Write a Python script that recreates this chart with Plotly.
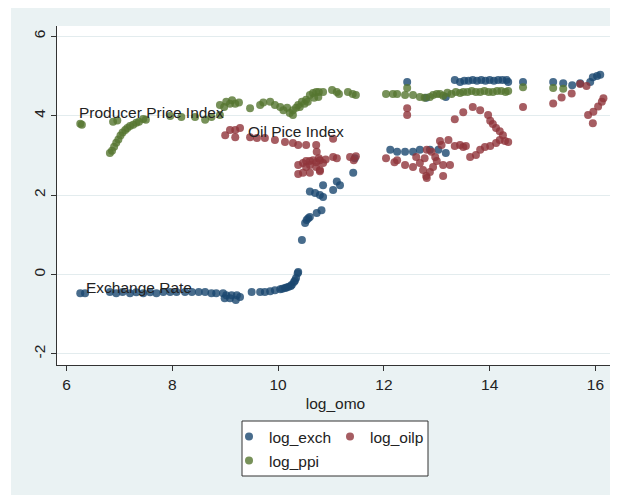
import plotly.graph_objects as go

# ---------------- data ----------------
omo_exch = [6.26, 6.35, 6.82, 6.94, 7.06, 7.20, 7.32, 7.45, 7.58, 7.70,
            7.83, 7.96, 8.08, 8.24, 8.37, 8.50, 8.62, 8.74, 8.83, 8.96,
            9.02, 9.12, 9.22, 9.28, 8.99, 9.09, 9.20, 9.50, 9.66, 9.75,
            9.85, 9.94, 10.04, 10.08, 10.13, 10.16, 10.20, 10.24, 10.26, 10.30,
            10.32, 10.34, 10.37, 10.38,
            10.45, 10.51, 10.54, 10.57, 10.60, 10.73, 10.82, 10.60, 10.70, 10.79,
            10.85, 10.85, 11.04, 11.11, 11.17, 11.42, 11.45,
            12.12, 12.25, 12.40, 12.55, 12.68, 12.87, 13.03, 13.17,
            12.44, 12.80, 13.17, 13.34, 13.44, 13.52, 13.60, 13.68, 13.76, 13.84,
            13.92, 14.00, 14.08, 14.16, 14.24, 14.32, 14.35, 14.63, 15.20, 15.39,
            15.56, 15.71, 15.90, 15.95, 16.03, 16.09]
log_exch = [-0.47, -0.47, -0.44, -0.47, -0.44, -0.47, -0.45, -0.47, -0.45, -0.47,
            -0.44, -0.44, -0.44, -0.44, -0.44, -0.44, -0.44, -0.47, -0.47, -0.47,
            -0.52, -0.52, -0.52, -0.57, -0.60, -0.60, -0.64, -0.44, -0.44, -0.44,
            -0.42, -0.40, -0.37, -0.36, -0.34, -0.33, -0.31, -0.29, -0.26, -0.19,
            -0.15, -0.09, 0.03, 0.06,
            0.87, 1.30, 1.37, 1.42, 1.45, 1.55, 1.62, 2.09, 2.05, 2.00,
            1.95, 2.25, 2.13, 2.34, 2.25, 2.56, 2.93,
            3.14, 3.09, 3.09, 3.09, 3.14, 3.14, 3.14, 3.06,
            4.85, 4.45, 4.47, 4.90, 4.85, 4.88, 4.88, 4.90, 4.88, 4.90,
            4.88, 4.90, 4.88, 4.90, 4.90, 4.90, 4.85, 4.85, 4.85, 4.82,
            4.77, 4.82, 4.85, 4.97, 5.00, 5.03]

omo_oilp = [9.00, 9.09, 9.19, 9.28, 9.19, 9.47, 9.60, 9.75, 9.94, 10.13,
            10.28, 10.38, 10.53, 10.72, 10.73, 11.04,
            10.38, 10.38, 10.47, 10.53, 10.60, 10.66, 10.72, 10.79, 10.85, 10.79,
            10.72, 10.60, 10.53, 10.47, 10.60, 10.79, 10.77, 10.90, 11.04, 11.11,
            11.36, 11.43, 11.47,
            12.04, 12.20, 12.25, 12.40, 12.55, 12.68, 12.74, 12.80, 12.87, 12.93,
            12.77, 12.61, 12.90, 12.97, 13.00, 13.12, 13.12, 13.25, 12.81, 12.81,
            13.06, 13.09, 13.22, 13.34, 13.44, 13.50, 13.55, 13.63, 13.74, 13.82,
            13.91, 14.01, 14.12, 14.19, 14.29, 14.35, 14.25, 14.19, 14.12, 14.06,
            14.01, 13.97, 13.82, 13.68, 13.50, 13.34,
            12.44, 12.44, 14.63, 15.20, 15.36, 15.55, 15.71, 15.83, 15.86, 15.96,
            15.95, 16.05, 16.12, 16.15]
log_oilp = [3.51, 3.64, 3.64, 3.69, 3.46, 3.46, 3.44, 3.44, 3.39, 3.34,
            3.31, 3.26, 3.26, 3.26, 3.09, 3.42,
            2.76, 2.53, 2.81, 2.86, 2.86, 2.88, 2.83, 2.88, 2.81, 2.63,
            2.71, 2.76, 2.71, 2.56, 2.56, 2.60, 2.93, 2.90, 2.96, 2.93,
            2.96, 2.88, 2.98,
            2.93, 2.83, 2.88, 2.76, 2.71, 2.81, 2.63, 2.48, 2.58, 2.71,
            2.93, 2.96, 3.09, 2.96, 2.86, 2.76, 2.48, 2.76, 3.14, 2.43,
            3.36, 3.26, 3.39, 3.24, 3.26, 3.21, 3.24, 2.96, 3.01, 3.14,
            3.21, 3.24, 3.31, 3.39, 3.36, 3.34, 3.51, 3.61, 3.69, 3.79,
            3.87, 4.02, 4.14, 4.22, 4.09, 3.91,
            4.19, 4.02, 4.22, 4.31, 4.46, 4.56, 4.80, 4.75, 4.02, 4.10,
            3.81, 4.23, 4.35, 4.44]

omo_ppi = [6.26, 6.29, 6.82, 6.86, 6.90, 6.94, 6.98, 7.02, 7.06, 7.11,
           7.15, 7.20, 7.26, 7.32, 7.37, 6.88, 6.96, 7.45, 7.50, 7.96,
           8.17, 8.43, 8.62, 8.74, 8.90, 8.90, 8.98, 9.02, 9.09, 9.13,
           9.19, 9.26, 9.47, 9.66, 9.72, 9.85, 9.94, 10.04, 10.10, 10.17,
           10.22, 10.28, 10.28, 10.34, 10.38, 10.41, 10.45, 10.50, 10.53, 10.60,
           10.66, 10.72, 10.77, 10.85, 10.76, 10.68, 10.56, 11.02, 11.11, 11.15,
           11.32, 11.41, 11.47, 12.04, 12.17, 12.25, 12.40, 12.44, 12.55, 12.68,
           12.77, 12.87, 12.93, 13.00, 13.06, 13.12, 13.20, 13.28, 13.36, 13.44,
           13.50, 13.58, 13.66, 13.74, 13.82, 13.90, 13.98, 14.06, 14.14, 14.22,
           14.30, 14.35, 14.63, 15.20, 15.39]
log_ppi = [3.80, 3.77, 3.06, 3.12, 3.22, 3.32, 3.40, 3.50, 3.58, 3.64,
           3.69, 3.74, 3.77, 3.82, 3.85, 3.85, 3.88, 3.92, 3.90, 3.99,
           3.97, 3.97, 3.90, 3.97, 4.02, 4.27, 4.22, 4.35, 4.30, 4.39,
           4.30, 4.33, 4.19, 4.27, 4.33, 4.35, 4.27, 4.22, 4.14, 4.20,
           4.07, 4.14, 4.02, 4.20, 4.27, 4.22, 4.35, 4.30, 4.40, 4.52,
           4.57, 4.60, 4.60, 4.60, 4.47, 4.45, 4.35, 4.65, 4.60, 4.55,
           4.60, 4.55, 4.52, 4.55, 4.55, 4.55, 4.52, 4.70, 4.52, 4.47,
           4.45, 4.47, 4.52, 4.55, 4.55, 4.50, 4.58, 4.55, 4.60, 4.57,
           4.60, 4.60, 4.62, 4.60, 4.60, 4.62, 4.60, 4.60, 4.62, 4.62,
           4.60, 4.62, 4.72, 4.70, 4.68]

series_names = ["log_exch", "log_oilp", "log_ppi"]
label_texts = ["Producer Price Index", "Oil Pice Index", "Exchange Rate"]
label_x = [6.20, 9.40, 6.33]
label_y = [4.07, 3.60, -0.33]
x_ticks = [6, 8, 10, 12, 14, 16]
y_ticks = [-2, 0, 2, 4, 6]
y_tick_labels = ["-2", "0", "2", "4", "6"]
x_title = "log_omo"

# ---------------- style ----------------
FONT = "Arial, Liberation Sans, sans-serif"
colors = ["#1a476f", "#90353b", "#55752f"]
legend_ids = ["legend", "legend", "legend2"]

fig = go.Figure()
for name, xs, ys, col, lg in zip(series_names,
                                 [omo_exch, omo_oilp, omo_ppi],
                                 [log_exch, log_oilp, log_ppi],
                                 colors, legend_ids):
    fig.add_trace(go.Scatter(
        x=xs, y=ys, mode="markers", name=name, legend=lg,
        marker=dict(size=8, color=col, opacity=0.8, line=dict(width=0)),
    ))

for t, lx, ly in zip(label_texts, label_x, label_y):
    fig.add_annotation(x=lx, y=ly, text=t, showarrow=False,
                       xanchor="left", yanchor="middle",
                       font=dict(family=FONT, size=15.5, color="#222222"))

axis_common = dict(showline=True, linecolor="#333333", linewidth=1,
                   ticks="outside", ticklen=5, tickcolor="#333333",
                   tickfont=dict(family=FONT, size=15.5, color="#222222"),
                   zeroline=False)

fig.update_xaxes(range=[5.82, 16.35], tickvals=x_ticks, showgrid=False,
                 title=dict(text=x_title, standoff=6,
                            font=dict(family=FONT, size=15.5, color="#222222")),
                 **axis_common)
fig.update_yaxes(range=[-2.28, 6.26], tickvals=y_ticks, ticktext=y_tick_labels,
                 tickangle=-90, showgrid=True, gridcolor="#e3ecee", gridwidth=1,
                 **axis_common)

# figure sits at (8, 8) on the page because of the default body margin
OFF = 8
W, H = 610, 487
ML, MR, MT, MB = 49, 4, 18, 130
pw, ph = W - ML - MR, H - MT - MB


def px2paper_x(px):
    return (px - OFF - ML) / pw


def px2paper_y(py):
    return (H - MB - (py - OFF)) / ph


# legend frame
fig.add_shape(type="rect", xref="paper", yref="paper",
              x0=px2paper_x(242), x1=px2paper_x(428),
              y0=px2paper_y(476), y1=px2paper_y(421),
              fillcolor="white", line=dict(color="#333333", width=1),
              layer="above")
# thin white strip at the left of the picture
fig.add_shape(type="rect", xref="paper", yref="paper",
              x0=px2paper_x(0), x1=px2paper_x(11),
              y0=px2paper_y(500), y1=px2paper_y(0),
              fillcolor="white", line=dict(width=0), layer="below")

legend_font = dict(family=FONT, size=15.5, color="#222222")
fig.update_layout(
    width=W, height=H,
    margin=dict(l=ML, r=MR, t=MT, b=MB),
    paper_bgcolor="#eaf2f3",
    plot_bgcolor="white",
    font=dict(family=FONT, size=15.5, color="#222222"),
    showlegend=True,
    legend=dict(orientation="h", x=px2paper_x(229), y=px2paper_y(437),
                xanchor="left", yanchor="middle", bgcolor="rgba(0,0,0,0)",
                borderwidth=0, entrywidth=56, entrywidthmode="pixels",
                font=legend_font, itemsizing="trace"),
    legend2=dict(orientation="h", x=px2paper_x(229), y=px2paper_y(461),
                 xanchor="left", yanchor="middle", bgcolor="rgba(0,0,0,0)",
                 borderwidth=0, font=legend_font, itemsizing="trace"),
)

fig.write_html("out.html")
